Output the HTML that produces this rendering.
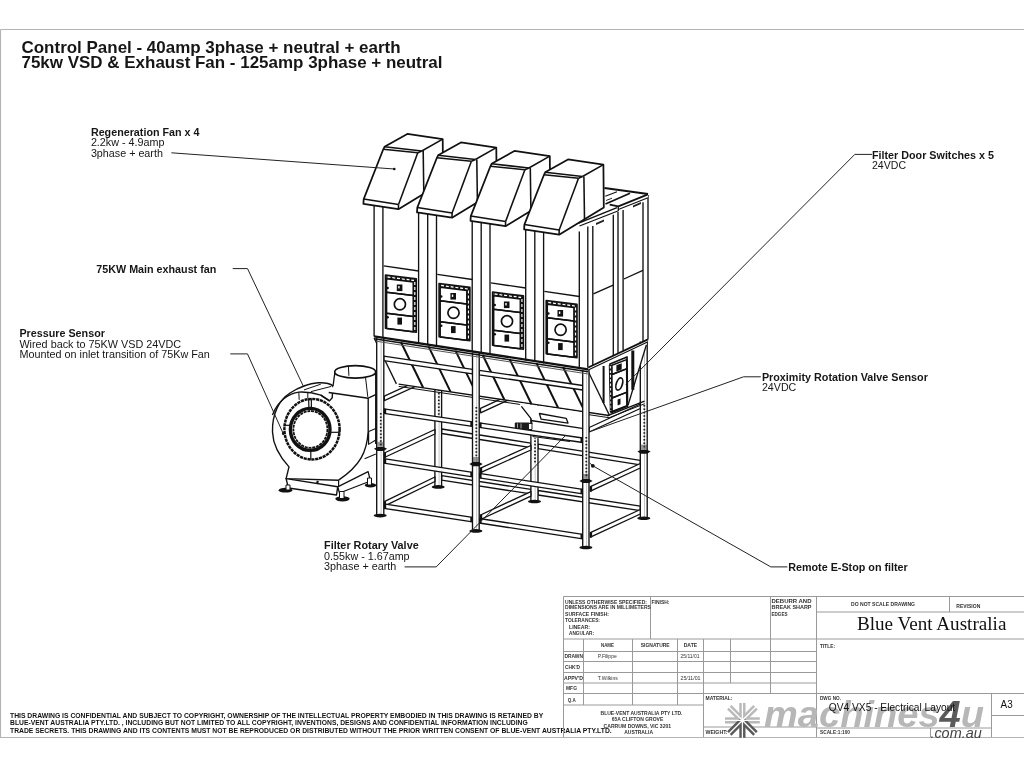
<!DOCTYPE html>
<html><head><meta charset="utf-8">
<style>
html,body{margin:0;padding:0;background:#fff;width:1024px;height:768px;overflow:hidden}
svg{display:block;filter:grayscale(1)}
text{font-family:"Liberation Sans",sans-serif}
.b{font-weight:bold}
.lb{font-size:10.75px}
</style></head><body>
<svg width="1024" height="768" viewBox="0 0 1024 768" fill="#161616">
<!-- frame -->
<g stroke="#b4b4b4" stroke-width="1.2" fill="none">
<path d="M0.5 29.5H1024M0.5 29.5V737.5H1024"/>
</g>
<!-- title -->
<text class="b" x="21.5" y="52.8" font-size="17" textLength="379" lengthAdjust="spacingAndGlyphs">Control Panel - 40amp 3phase + neutral + earth</text>
<text class="b" x="21.5" y="67.7" font-size="17" textLength="421" lengthAdjust="spacingAndGlyphs">75kw VSD &amp; Exhaust Fan - 125amp 3phase + neutral</text>
<!-- labels -->
<g class="lb">
<text class="b" x="90.9" y="135.6" textLength="108.6" lengthAdjust="spacingAndGlyphs">Regeneration Fan x 4</text>
<text x="90.9" y="146.3" textLength="73.5" lengthAdjust="spacingAndGlyphs">2.2kw - 4.9amp</text>
<text x="90.9" y="156.8" textLength="72" lengthAdjust="spacingAndGlyphs">3phase + earth</text>
<text class="b" x="96.3" y="273" textLength="120" lengthAdjust="spacingAndGlyphs">75KW Main exhaust fan</text>
<text class="b" x="19.4" y="337" textLength="85.5" lengthAdjust="spacingAndGlyphs">Pressure Sensor</text>
<text x="19.4" y="347.6" textLength="161.7" lengthAdjust="spacingAndGlyphs">Wired back to 75KW VSD 24VDC</text>
<text x="19.4" y="358.1" textLength="190.5" lengthAdjust="spacingAndGlyphs">Mounted on inlet transition of 75Kw Fan</text>
<text class="b" x="872" y="159.1" textLength="121.9" lengthAdjust="spacingAndGlyphs">Filter Door Switches x 5</text>
<text x="872" y="169.4" textLength="34" lengthAdjust="spacingAndGlyphs">24VDC</text>
<text class="b" x="761.9" y="381.1" textLength="166" lengthAdjust="spacingAndGlyphs">Proximity Rotation Valve Sensor</text>
<text x="761.9" y="391.2" textLength="34.4" lengthAdjust="spacingAndGlyphs">24VDC</text>
<text class="b" x="324.1" y="549.1" textLength="94.6" lengthAdjust="spacingAndGlyphs">Filter Rotary Valve</text>
<text x="324.1" y="559.5" textLength="85.5" lengthAdjust="spacingAndGlyphs">0.55kw - 1.67amp</text>
<text x="324.1" y="570.3" textLength="72.2" lengthAdjust="spacingAndGlyphs">3phase + earth</text>
<text class="b" x="788.2" y="570.8" textLength="119.6" lengthAdjust="spacingAndGlyphs">Remote E-Stop on filter</text>
</g>
<!-- copyright -->
<g class="b" font-size="6.9" fill="#111">
<text x="10" y="717.8" textLength="533.3" lengthAdjust="spacingAndGlyphs">THIS DRAWING IS CONFIDENTIAL AND SUBJECT TO COPYRIGHT, OWNERSHIP OF THE INTELLECTUAL PROPERTY EMBODIED IN THIS DRAWING IS RETAINED BY</text>
<text x="10" y="725.3" textLength="517.7" lengthAdjust="spacingAndGlyphs">BLUE-VENT AUSTRALIA PTY.LTD. , INCLUDING BUT NOT LIMITED TO ALL COPYRIGHT, INVENTIONS, DESIGNS AND CONFIDENTIAL INFORMATION INCLUDING</text>
<text x="10" y="732.8" textLength="601.7" lengthAdjust="spacingAndGlyphs">TRADE SECRETS. THIS DRAWING AND ITS CONTENTS MUST NOT BE REPRODUCED OR DISTRIBUTED WITHOUT THE PRIOR WRITTEN CONSENT OF BLUE-VENT AUSTRALIA PTY.LTD.</text>
</g>
<!-- MACHINE -->
<g id="machine" stroke="#111" stroke-width="1.35" fill="none" stroke-linejoin="round">
<!--M-->
<polygon points="441.6,429.0 530.9,443.1 530.9,447.6 441.6,433.5" fill="#fff"/>
<polygon points="538.0,444.2 640.3,460.4 640.3,464.9 538.0,448.7" fill="#fff"/>
<polygon points="441.6,475.7 530.9,489.4 530.9,493.9 441.6,480.2" fill="#fff"/>
<polygon points="538.0,490.5 640.3,506.1 640.3,510.6 538.0,495.0" fill="#fff"/>
<rect x="434.9" y="378.0" width="6.7" height="108.9" fill="#fff" stroke="none"/>
<line x1="434.9" y1="378.0" x2="434.9" y2="486.9"/>
<line x1="441.6" y1="378.0" x2="441.6" y2="486.9"/>
<line x1="439.1" y1="378.0" x2="439.1" y2="486.9" stroke-width="0.5" stroke="#888"/>
<ellipse cx="438.2" cy="486.9" rx="6.5" ry="1.8" fill="#111" stroke="none"/>
<rect x="530.9" y="378.0" width="7.1" height="123.5" fill="#fff" stroke="none"/>
<line x1="530.9" y1="378.0" x2="530.9" y2="501.5"/>
<line x1="538.0" y1="378.0" x2="538.0" y2="501.5"/>
<line x1="535.2" y1="378.0" x2="535.2" y2="501.5" stroke-width="0.5" stroke="#888"/>
<ellipse cx="534.5" cy="501.5" rx="6.5" ry="1.8" fill="#111" stroke="none"/>
<rect x="640.3" y="341.5" width="6.9" height="176.8" fill="#fff" stroke="none"/>
<line x1="640.3" y1="341.5" x2="640.3" y2="518.3"/>
<line x1="647.2" y1="341.5" x2="647.2" y2="518.3"/>
<line x1="644.5" y1="341.5" x2="644.5" y2="518.3" stroke-width="0.5" stroke="#888"/>
<ellipse cx="643.8" cy="518.3" rx="6.5" ry="1.8" fill="#111" stroke="none"/>
<rect x="437.9" y="386.0" width="1.8" height="1.6" fill="#222" stroke="none"/>
<rect x="437.9" y="389.4" width="1.8" height="1.6" fill="#222" stroke="none"/>
<rect x="437.9" y="392.8" width="1.8" height="1.6" fill="#222" stroke="none"/>
<rect x="437.9" y="396.2" width="1.8" height="1.6" fill="#222" stroke="none"/>
<rect x="437.9" y="399.6" width="1.8" height="1.6" fill="#222" stroke="none"/>
<rect x="437.9" y="403.0" width="1.8" height="1.6" fill="#222" stroke="none"/>
<rect x="437.9" y="406.4" width="1.8" height="1.6" fill="#222" stroke="none"/>
<rect x="437.9" y="409.8" width="1.8" height="1.6" fill="#222" stroke="none"/>
<rect x="437.9" y="413.2" width="1.8" height="1.6" fill="#222" stroke="none"/>
<rect x="534.1" y="437.0" width="1.8" height="1.6" fill="#222" stroke="none"/>
<rect x="534.1" y="440.4" width="1.8" height="1.6" fill="#222" stroke="none"/>
<rect x="534.1" y="443.8" width="1.8" height="1.6" fill="#222" stroke="none"/>
<rect x="534.1" y="447.2" width="1.8" height="1.6" fill="#222" stroke="none"/>
<rect x="534.1" y="450.6" width="1.8" height="1.6" fill="#222" stroke="none"/>
<rect x="534.1" y="454.0" width="1.8" height="1.6" fill="#222" stroke="none"/>
<rect x="534.1" y="457.4" width="1.8" height="1.6" fill="#222" stroke="none"/>
<rect x="534.1" y="460.8" width="1.8" height="1.6" fill="#222" stroke="none"/>
<rect x="643.4" y="405.0" width="1.8" height="1.6" fill="#222" stroke="none"/>
<rect x="643.4" y="408.4" width="1.8" height="1.6" fill="#222" stroke="none"/>
<rect x="643.4" y="411.8" width="1.8" height="1.6" fill="#222" stroke="none"/>
<rect x="643.4" y="415.2" width="1.8" height="1.6" fill="#222" stroke="none"/>
<rect x="643.4" y="418.6" width="1.8" height="1.6" fill="#222" stroke="none"/>
<rect x="643.4" y="422.0" width="1.8" height="1.6" fill="#222" stroke="none"/>
<rect x="643.4" y="425.4" width="1.8" height="1.6" fill="#222" stroke="none"/>
<rect x="643.4" y="428.8" width="1.8" height="1.6" fill="#222" stroke="none"/>
<rect x="643.4" y="432.2" width="1.8" height="1.6" fill="#222" stroke="none"/>
<rect x="643.4" y="435.6" width="1.8" height="1.6" fill="#222" stroke="none"/>
<rect x="643.4" y="439.0" width="1.8" height="1.6" fill="#222" stroke="none"/>
<rect x="643.4" y="442.4" width="1.8" height="1.6" fill="#222" stroke="none"/>
<rect x="643.4" y="445.8" width="1.8" height="1.6" fill="#222" stroke="none"/>
<polygon points="637.4,451.6 641.0,449.7 647.0,449.7 650.6,451.6 647.0,453.8 641.0,453.8" fill="#111" stroke="none"/><rect x="640.8" y="444.6" width="6.4" height="5" fill="#444" stroke="none" opacity="0.55"/>
<polygon points="384.3,396.1 434.9,373.0 434.9,377.5 384.3,400.6" fill="#fff"/>
<polygon points="480.5,408.3 530.9,385.0 530.9,389.5 480.5,412.8" fill="#fff"/>
<polygon points="589.2,427.5 640.3,404.0 640.3,408.5 589.2,432.0" fill="#fff"/>
<polygon points="374.1,338.0 588.0,371.0 609.0,415.5 398.7,384.2" fill="#fff" stroke="none"/>
<polygon points="588.0,371.0 648.0,339.5 646.3,345.0 628.1,405.0 609.0,415.5" fill="#fff" stroke="none"/>
<line x1="374.1" y1="338.0" x2="396.4" y2="383.9" stroke-width="1.3"/>
<line x1="401.0" y1="342.2" x2="423.2" y2="387.8" stroke-width="2"/>
<line x1="428.5" y1="346.4" x2="450.6" y2="391.9" stroke-width="2"/>
<line x1="455.5" y1="350.6" x2="477.5" y2="395.9" stroke-width="2"/>
<line x1="482.6" y1="354.8" x2="504.5" y2="400.0" stroke-width="2"/>
<line x1="509.5" y1="358.9" x2="531.4" y2="404.0" stroke-width="2"/>
<line x1="536.4" y1="363.1" x2="558.2" y2="408.0" stroke-width="2"/>
<line x1="563.2" y1="367.2" x2="584.9" y2="411.9" stroke-width="2"/>
<line x1="588.0" y1="371.0" x2="609.6" y2="415.6" stroke-width="1.3"/>
<line x1="398.7" y1="384.2" x2="609.0" y2="415.5" stroke-width="1.3"/>
<line x1="398.7" y1="386.4" x2="609.0" y2="417.7" stroke-width="1"/>
<line x1="646.3" y1="345.0" x2="628.1" y2="405.0" stroke-width="1.3"/>
<line x1="607.0" y1="415.8" x2="644.5" y2="401.2" stroke-width="1.4"/>
<line x1="608.0" y1="418.2" x2="644.5" y2="403.8" stroke-width="1"/>
<polygon points="610.0,364.0 627.0,357.0 627.5,406.2 611.1,412.6" fill="#fff" stroke-width="1.7"/>
<line x1="610.2" y1="365.0" x2="611.2" y2="412.0" stroke-width="2.8"/>
<line x1="610.3" y1="366.0" x2="611.1" y2="411.0" stroke="#fff" stroke-width="1.1" stroke-dasharray="2.6 1.8"/>
<polygon points="611.9,365.2 626.6,359.6 626.9,368.6 612.1,374.5" stroke-width="1.5"/>
<polygon points="611.9,374.5 626.6,368.9 626.9,392.1 612.1,398.0" stroke-width="1.5"/>
<polygon points="611.9,398.0 626.6,392.4 626.9,405.6 612.1,411.5" stroke-width="1.5"/>
<polygon points="616.4,365.2 621.7,363.2 621.7,369.4 616.4,371.4" fill="#111" stroke="none"/>
<ellipse cx="619.3" cy="384" rx="3" ry="6.3" stroke-width="1.7" transform="rotate(18 619.3 384)"/>
<polygon points="617.6,399.5 620.5,398.4 620.5,404.3 617.6,405.4" fill="#111" stroke="none"/>
<line x1="603.6" y1="366.0" x2="603.6" y2="403.0" stroke-width="2"/>
<line x1="632.8" y1="350.5" x2="632.8" y2="389.8" stroke-width="3"/>
<polygon points="519.0,403.0 521.4,406.4 531.0,418.7 532.0,437.5 583.0,443.0 583.0,412.5" fill="#fff" stroke="none"/>
<line x1="532.5" y1="436.5" x2="570.0" y2="441.5" stroke-width="1.2"/>
<polyline points="521.4,406.4 531.0,418.7 531.9,424.0"/>
<line x1="531.0" y1="420.5" x2="582.0" y2="428.4"/>
<polygon points="539.4,413.5 566.2,418.3 568.0,423.1 541.1,419.2" stroke-width="1.3"/>
<rect x="514.8" y="422.6" width="15" height="7.4" rx="1" fill="#1a1a1a" stroke="none"/>
<line x1="517.5" y1="423.5" x2="517.5" y2="429.0" stroke="#fff" stroke-width="0.6"/>
<line x1="521.0" y1="423.5" x2="521.0" y2="429.0" stroke="#fff" stroke-width="0.6"/>
<rect x="528.5" y="423.5" width="3.5" height="6" fill="#fff" stroke-width="0.9"/>
<polygon points="384.3,453.0 434.9,429.5 434.9,434.0 384.3,457.5" fill="#fff"/>
<polygon points="384.3,501.6 434.9,477.0 434.9,481.5 384.3,506.1" fill="#fff"/>
<polygon points="480.5,468.1 530.9,445.5 530.9,450.0 480.5,472.6" fill="#fff"/>
<polygon points="480.5,515.0 530.9,491.6 530.9,496.1 480.5,519.5" fill="#fff"/>
<polygon points="590.4,486.7 640.3,463.5 640.3,468.0 590.4,491.2" fill="#fff"/>
<polygon points="590.4,532.7 640.3,509.5 640.3,514.0 590.4,537.2" fill="#fff"/>
<polygon points="383.8,356.2 472.5,369.3 472.5,373.8 383.8,360.7" fill="#fff"/>
<polygon points="479.2,370.3 582.7,385.5 582.7,390.0 479.2,374.8" fill="#fff"/>
<polygon points="383.8,408.9 472.5,421.9 472.5,426.4 383.8,413.4" fill="#fff"/>
<polygon points="479.2,422.9 582.7,438.0 582.7,442.5 479.2,427.4" fill="#fff"/>
<polygon points="383.8,458.7 472.5,472.3 472.5,476.8 383.8,463.2" fill="#fff"/>
<polygon points="479.2,473.4 582.7,489.3 582.7,493.8 479.2,477.9" fill="#fff"/>
<polygon points="383.8,503.8 472.5,517.4 472.5,521.9 383.8,508.3" fill="#fff"/>
<polygon points="479.2,518.5 582.7,534.4 582.7,538.9 479.2,523.0" fill="#fff"/>
<rect x="376.7" y="338.0" width="7.1" height="177.6" fill="#fff" stroke="none"/>
<line x1="376.7" y1="338.0" x2="376.7" y2="515.6"/>
<line x1="383.8" y1="338.0" x2="383.8" y2="515.6"/>
<line x1="381.1" y1="338.0" x2="381.1" y2="515.6" stroke-width="0.5" stroke="#888"/>
<ellipse cx="380.2" cy="515.6" rx="6.5" ry="1.8" fill="#111" stroke="none"/>
<rect x="472.5" y="352.5" width="6.7" height="178.4" fill="#fff" stroke="none"/>
<line x1="472.5" y1="352.5" x2="472.5" y2="530.9"/>
<line x1="479.2" y1="352.5" x2="479.2" y2="530.9"/>
<line x1="476.7" y1="352.5" x2="476.7" y2="530.9" stroke-width="0.5" stroke="#888"/>
<ellipse cx="475.9" cy="530.9" rx="6.5" ry="1.8" fill="#111" stroke="none"/>
<rect x="582.7" y="370.0" width="6.3" height="177.5" fill="#fff" stroke="none"/>
<line x1="582.7" y1="370.0" x2="582.7" y2="547.5"/>
<line x1="589.0" y1="370.0" x2="589.0" y2="547.5"/>
<line x1="586.6" y1="370.0" x2="586.6" y2="547.5" stroke-width="0.5" stroke="#888"/>
<ellipse cx="585.9" cy="547.5" rx="6.5" ry="1.8" fill="#111" stroke="none"/>
<polygon points="373.9,448.8 377.5,446.9 383.5,446.9 387.1,448.8 383.5,451.0 377.5,451.0" fill="#111" stroke="none"/><rect x="377.3" y="441.8" width="6.4" height="5" fill="#444" stroke="none" opacity="0.55"/>
<polygon points="469.4,464.0 473.0,462.1 479.0,462.1 482.6,464.0 479.0,466.2 473.0,466.2" fill="#111" stroke="none"/><rect x="472.8" y="457.0" width="6.4" height="5" fill="#444" stroke="none" opacity="0.55"/>
<polygon points="579.4,480.9 583.0,479.0 589.0,479.0 592.6,480.9 589.0,483.1 583.0,483.1" fill="#111" stroke="none"/><rect x="582.8" y="473.9" width="6.4" height="5" fill="#444" stroke="none" opacity="0.55"/>
<rect x="384.0" y="408.7" width="2.2" height="5.2" fill="#111" stroke="none"/>
<rect x="470.3" y="421.3" width="2.2" height="5.2" fill="#111" stroke="none"/>
<rect x="479.4" y="422.6" width="2.2" height="5.2" fill="#111" stroke="none"/>
<rect x="580.5" y="437.4" width="2.2" height="5.2" fill="#111" stroke="none"/>
<rect x="384.0" y="458.5" width="2.2" height="5.2" fill="#111" stroke="none"/>
<rect x="470.3" y="471.8" width="2.2" height="5.2" fill="#111" stroke="none"/>
<rect x="479.4" y="473.2" width="2.2" height="5.2" fill="#111" stroke="none"/>
<rect x="580.5" y="488.7" width="2.2" height="5.2" fill="#111" stroke="none"/>
<rect x="384.0" y="503.6" width="2.2" height="5.2" fill="#111" stroke="none"/>
<rect x="470.3" y="516.9" width="2.2" height="5.2" fill="#111" stroke="none"/>
<rect x="479.4" y="518.3" width="2.2" height="5.2" fill="#111" stroke="none"/>
<rect x="580.5" y="533.8" width="2.2" height="5.2" fill="#111" stroke="none"/>
<rect x="383.8" y="452.6" width="2.2" height="5.2" fill="#111" stroke="none"/>
<rect x="383.8" y="501.2" width="2.2" height="5.2" fill="#111" stroke="none"/>
<rect x="480.0" y="467.7" width="2.2" height="5.2" fill="#111" stroke="none"/>
<rect x="480.0" y="514.6" width="2.2" height="5.2" fill="#111" stroke="none"/>
<rect x="589.9" y="486.3" width="2.2" height="5.2" fill="#111" stroke="none"/>
<rect x="589.9" y="532.3" width="2.2" height="5.2" fill="#111" stroke="none"/>
<rect x="379.9" y="413.0" width="1.8" height="1.6" fill="#222" stroke="none"/>
<rect x="379.9" y="416.4" width="1.8" height="1.6" fill="#222" stroke="none"/>
<rect x="379.9" y="419.8" width="1.8" height="1.6" fill="#222" stroke="none"/>
<rect x="379.9" y="423.2" width="1.8" height="1.6" fill="#222" stroke="none"/>
<rect x="379.9" y="426.6" width="1.8" height="1.6" fill="#222" stroke="none"/>
<rect x="379.9" y="430.0" width="1.8" height="1.6" fill="#222" stroke="none"/>
<rect x="379.9" y="433.4" width="1.8" height="1.6" fill="#222" stroke="none"/>
<rect x="379.9" y="436.8" width="1.8" height="1.6" fill="#222" stroke="none"/>
<rect x="379.9" y="440.2" width="1.8" height="1.6" fill="#222" stroke="none"/>
<rect x="379.9" y="443.6" width="1.8" height="1.6" fill="#222" stroke="none"/>
<rect x="585.4" y="437.0" width="1.8" height="1.6" fill="#222" stroke="none"/>
<rect x="585.4" y="440.4" width="1.8" height="1.6" fill="#222" stroke="none"/>
<rect x="585.4" y="443.8" width="1.8" height="1.6" fill="#222" stroke="none"/>
<rect x="585.4" y="447.2" width="1.8" height="1.6" fill="#222" stroke="none"/>
<rect x="585.4" y="450.6" width="1.8" height="1.6" fill="#222" stroke="none"/>
<rect x="585.4" y="454.0" width="1.8" height="1.6" fill="#222" stroke="none"/>
<rect x="585.4" y="457.4" width="1.8" height="1.6" fill="#222" stroke="none"/>
<rect x="585.4" y="460.8" width="1.8" height="1.6" fill="#222" stroke="none"/>
<rect x="585.4" y="464.2" width="1.8" height="1.6" fill="#222" stroke="none"/>
<rect x="585.4" y="467.6" width="1.8" height="1.6" fill="#222" stroke="none"/>
<rect x="585.4" y="471.0" width="1.8" height="1.6" fill="#222" stroke="none"/>
<rect x="585.4" y="474.4" width="1.8" height="1.6" fill="#222" stroke="none"/>
<rect x="475.4" y="407.0" width="1.8" height="1.6" fill="#222" stroke="none"/>
<rect x="475.4" y="410.4" width="1.8" height="1.6" fill="#222" stroke="none"/>
<rect x="475.4" y="413.8" width="1.8" height="1.6" fill="#222" stroke="none"/>
<rect x="475.4" y="417.2" width="1.8" height="1.6" fill="#222" stroke="none"/>
<rect x="475.4" y="420.6" width="1.8" height="1.6" fill="#222" stroke="none"/>
<rect x="475.4" y="424.0" width="1.8" height="1.6" fill="#222" stroke="none"/>
<rect x="475.4" y="427.4" width="1.8" height="1.6" fill="#222" stroke="none"/>
<rect x="475.4" y="430.8" width="1.8" height="1.6" fill="#222" stroke="none"/>
<rect x="475.4" y="434.2" width="1.8" height="1.6" fill="#222" stroke="none"/>
<rect x="475.4" y="437.6" width="1.8" height="1.6" fill="#222" stroke="none"/>
<rect x="475.4" y="441.0" width="1.8" height="1.6" fill="#222" stroke="none"/>
<rect x="475.4" y="444.4" width="1.8" height="1.6" fill="#222" stroke="none"/>
<rect x="475.4" y="447.8" width="1.8" height="1.6" fill="#222" stroke="none"/>
<rect x="475.4" y="451.2" width="1.8" height="1.6" fill="#222" stroke="none"/>
<rect x="475.4" y="454.6" width="1.8" height="1.6" fill="#222" stroke="none"/>
<line x1="374.1" y1="336.3" x2="588.2" y2="369.3" stroke-width="2.3"/>
<line x1="374.1" y1="338.8" x2="588.2" y2="371.8" stroke-width="1.4"/>
<line x1="376.0" y1="341.2" x2="588.2" y2="374.0" stroke-width="1" stroke="#555"/>
<line x1="588.2" y1="367.5" x2="648.0" y2="339.4" stroke-width="1.8"/>
<line x1="588.2" y1="370.0" x2="648.0" y2="341.8" stroke-width="1.2"/>
<path d="M286.1,478.6 L289,466.9 C280,457 273,446 272.5,432 C272,414 279,400 290,393 C298,388 308,383.5 318,382.8 C324,382.5 330,383.5 333,385.9 L368.2,398.2 L368.2,431.5 C367,452 360,466 338.6,480.2 Z" fill="#fff" stroke-width="1.4"/>
<polyline points="333.0,385.9 332.2,397.8 329.5,400.9 320.8,395.2" stroke-width="1.4"/>
<line x1="304.0" y1="389.9" x2="320.8" y2="384.2" stroke-width="1"/>
<line x1="311.0" y1="391.6" x2="331.3" y2="386.4" stroke-width="1"/>
<path d="M272.5,415 C278,400 290,393 298.8,392.1 C305,391.8 312,392.3 320.8,395.2 L329.5,400.9" stroke-width="1.4"/>
<line x1="298.8" y1="392.1" x2="299.2" y2="399.8" stroke-width="1"/>
<line x1="307.8" y1="392.3" x2="307.8" y2="398.2" stroke-width="1"/>
<ellipse cx="312" cy="429.2" rx="27.6" ry="30.3" stroke-width="2.5" stroke-dasharray="3.2 0.7"/>
<ellipse cx="310.2" cy="429.4" rx="19.8" ry="21" stroke-width="3.4"/>
<ellipse cx="310.4" cy="429.4" rx="17" ry="18.4" stroke-width="1.8" stroke-dasharray="3 0.8"/>
<line x1="308.6" y1="398.6" x2="308.9" y2="407.8" stroke-width="1.2"/>
<line x1="311.3" y1="398.6" x2="311.4" y2="407.8" stroke-width="1.2"/>
<line x1="330.6" y1="432.3" x2="340.0" y2="432.3" stroke-width="1.2"/>
<line x1="310.8" y1="451.0" x2="310.8" y2="459.8" stroke-width="1.2"/>
<line x1="283.8" y1="425.3" x2="290.2" y2="425.3" stroke-width="1.2"/>
<line x1="283.2" y1="433.5" x2="283.2" y2="433.5" stroke-width="2.5" stroke-linecap="round"/>
<polygon points="328.7,392.5 333.0,386.4 334.8,372.5 375.7,372.3 375.7,394.7 368.2,398.2" fill="#fff" stroke="none"/>
<line x1="328.7" y1="392.5" x2="368.2" y2="398.2" stroke-width="1.6"/>
<line x1="368.2" y1="398.2" x2="375.7" y2="394.7" stroke-width="1.3"/>
<line x1="334.8" y1="372.8" x2="333.0" y2="386.4" stroke-width="1.3"/>
<line x1="375.7" y1="372.3" x2="375.7" y2="444.0" stroke-width="1.3"/>
<ellipse cx="355.2" cy="371.9" rx="20.5" ry="6.2" fill="#fff" stroke-width="1.7"/>
<line x1="348.4" y1="366.0" x2="348.9" y2="375.8" stroke-width="1"/>
<line x1="365.6" y1="378.0" x2="367.8" y2="396.9" stroke-width="1"/>
<line x1="368.7" y1="431.5" x2="375.8" y2="428.6" stroke-width="1.1"/>
<polygon points="286.1,478.6 337.7,486.8 336.5,495.0 288.4,488.0" fill="#fff" stroke-width="1.4"/>
<polygon points="337.7,486.8 368.1,471.6 370.5,481.0 339.5,493.0" fill="#fff" stroke-width="1.3"/>
<line x1="338.6" y1="480.2" x2="338.6" y2="487.0" stroke-width="1.2"/>
<line x1="368.6" y1="431.5" x2="368.6" y2="444.0" stroke-width="1.2"/>
<line x1="368.1" y1="444.6" x2="375.8" y2="440.0" stroke-width="1.1"/>
<line x1="364.6" y1="458.7" x2="375.8" y2="454.0" stroke-width="1.1"/>
<ellipse cx="285.5" cy="490.2" rx="6.8" ry="2.4" fill="#111" stroke="none"/>
<ellipse cx="342.5" cy="498.8" rx="7.2" ry="2.6" fill="#111" stroke="none"/>
<ellipse cx="370.5" cy="485.3" rx="5.8" ry="2.2" fill="#111" stroke="none"/>
<rect x="286" y="485" width="4" height="5" fill="#fff" stroke-width="1"/>
<rect x="339.5" y="491.5" width="4.5" height="7" fill="#fff" stroke-width="1"/>
<rect x="367.5" y="478" width="4" height="7" fill="#fff" stroke-width="1"/>
<line x1="317.0" y1="483.0" x2="318.0" y2="481.0" stroke-width="2.2"/>
<line x1="374.1" y1="200.0" x2="374.1" y2="336.5"/>
<line x1="382.9" y1="200.0" x2="382.9" y2="337.9"/>
<line x1="418.6" y1="206.0" x2="418.6" y2="343.4"/>
<line x1="383.7" y1="265.9" x2="418.7" y2="271.0"/>
<polygon points="385.5,275.0 416.3,278.9 416.3,332.2 385.5,328.3" stroke-width="1.6"/>
<line x1="386.2" y1="276.9" x2="415.8" y2="280.8" stroke-width="3"/>
<line x1="414.8" y1="280.0" x2="414.8" y2="331.5" stroke-width="2.8"/>
<line x1="387.5" y1="277.0" x2="414.0" y2="280.5" stroke="#fff" stroke-width="1.3" stroke-dasharray="3 1.8"/>
<line x1="414.8" y1="282.0" x2="414.8" y2="330.0" stroke="#fff" stroke-width="1.2" stroke-dasharray="3 2"/>
<polygon points="386.6,278.8 413.2,282.1 413.2,295.5 386.6,292.2" stroke-width="1.5"/>
<polygon points="386.6,292.2 413.2,295.5 413.2,316.6 386.6,313.3" stroke-width="1.5"/>
<polygon points="386.6,313.3 413.2,316.6 413.2,331.7 386.6,328.4" stroke-width="1.5"/>
<rect x="396.8" y="284.5" width="5.6" height="6.6" fill="#111" stroke="none"/>
<rect x="398.2" y="286.0" width="1.4" height="2.4" fill="#fff" stroke="none"/>
<circle cx="399.9" cy="304.3" r="5.6" stroke-width="1.7"/>
<rect x="397.4" y="317.6" width="4.6" height="7" fill="#111" stroke="none"/>
<circle cx="387.6" cy="288.0" r="1.3" fill="#111" stroke="none"/>
<circle cx="387.6" cy="317.3" r="1.3" fill="#111" stroke="none"/>
<line x1="427.7" y1="208.5" x2="427.7" y2="345.0"/>
<line x1="436.5" y1="208.5" x2="436.5" y2="346.4"/>
<line x1="472.2" y1="214.5" x2="472.2" y2="351.9"/>
<line x1="437.3" y1="274.4" x2="472.3" y2="279.5"/>
<polygon points="439.1,283.5 469.9,287.4 469.9,340.7 439.1,336.8" stroke-width="1.6"/>
<line x1="439.8" y1="285.4" x2="469.4" y2="289.3" stroke-width="3"/>
<line x1="468.4" y1="288.5" x2="468.4" y2="340.0" stroke-width="2.8"/>
<line x1="441.1" y1="285.5" x2="467.6" y2="289.0" stroke="#fff" stroke-width="1.3" stroke-dasharray="3 1.8"/>
<line x1="468.4" y1="290.5" x2="468.4" y2="338.5" stroke="#fff" stroke-width="1.2" stroke-dasharray="3 2"/>
<polygon points="440.2,287.3 466.8,290.6 466.8,304.0 440.2,300.7" stroke-width="1.5"/>
<polygon points="440.2,300.7 466.8,304.0 466.8,325.1 440.2,321.8" stroke-width="1.5"/>
<polygon points="440.2,321.8 466.8,325.1 466.8,340.2 440.2,336.9" stroke-width="1.5"/>
<rect x="450.4" y="293.0" width="5.6" height="6.6" fill="#111" stroke="none"/>
<rect x="451.8" y="294.5" width="1.4" height="2.4" fill="#fff" stroke="none"/>
<circle cx="453.5" cy="312.8" r="5.6" stroke-width="1.7"/>
<rect x="451.0" y="326.1" width="4.6" height="7" fill="#111" stroke="none"/>
<circle cx="441.2" cy="296.5" r="1.3" fill="#111" stroke="none"/>
<circle cx="441.2" cy="325.8" r="1.3" fill="#111" stroke="none"/>
<line x1="481.2" y1="217.0" x2="481.2" y2="353.5"/>
<line x1="490.0" y1="217.0" x2="490.0" y2="354.9"/>
<line x1="525.7" y1="223.0" x2="525.7" y2="360.4"/>
<line x1="490.8" y1="282.9" x2="525.8" y2="288.0"/>
<polygon points="492.6,292.0 523.4,295.9 523.4,349.2 492.6,345.3" stroke-width="1.6"/>
<line x1="493.3" y1="293.9" x2="522.9" y2="297.8" stroke-width="3"/>
<line x1="521.9" y1="297.0" x2="521.9" y2="348.5" stroke-width="2.8"/>
<line x1="494.6" y1="294.0" x2="521.1" y2="297.5" stroke="#fff" stroke-width="1.3" stroke-dasharray="3 1.8"/>
<line x1="521.9" y1="299.0" x2="521.9" y2="347.0" stroke="#fff" stroke-width="1.2" stroke-dasharray="3 2"/>
<polygon points="493.7,295.8 520.3,299.1 520.3,312.5 493.7,309.2" stroke-width="1.5"/>
<polygon points="493.7,309.2 520.3,312.5 520.3,333.6 493.7,330.3" stroke-width="1.5"/>
<polygon points="493.7,330.3 520.3,333.6 520.3,348.7 493.7,345.4" stroke-width="1.5"/>
<rect x="503.9" y="301.5" width="5.6" height="6.6" fill="#111" stroke="none"/>
<rect x="505.3" y="303.0" width="1.4" height="2.4" fill="#fff" stroke="none"/>
<circle cx="507.0" cy="321.3" r="5.6" stroke-width="1.7"/>
<rect x="504.5" y="334.6" width="4.6" height="7" fill="#111" stroke="none"/>
<circle cx="494.7" cy="305.0" r="1.3" fill="#111" stroke="none"/>
<circle cx="494.7" cy="334.3" r="1.3" fill="#111" stroke="none"/>
<line x1="534.8" y1="225.5" x2="534.8" y2="362.0"/>
<line x1="543.6" y1="225.5" x2="543.6" y2="363.4"/>
<line x1="579.3" y1="231.5" x2="579.3" y2="368.9"/>
<line x1="544.4" y1="291.4" x2="579.4" y2="296.5"/>
<polygon points="546.2,300.5 577.0,304.4 577.0,357.7 546.2,353.8" stroke-width="1.6"/>
<line x1="546.9" y1="302.4" x2="576.5" y2="306.3" stroke-width="3"/>
<line x1="575.5" y1="305.5" x2="575.5" y2="357.0" stroke-width="2.8"/>
<line x1="548.2" y1="302.5" x2="574.7" y2="306.0" stroke="#fff" stroke-width="1.3" stroke-dasharray="3 1.8"/>
<line x1="575.5" y1="307.5" x2="575.5" y2="355.5" stroke="#fff" stroke-width="1.2" stroke-dasharray="3 2"/>
<polygon points="547.3,304.3 573.9,307.6 573.9,321.0 547.3,317.7" stroke-width="1.5"/>
<polygon points="547.3,317.7 573.9,321.0 573.9,342.1 547.3,338.8" stroke-width="1.5"/>
<polygon points="547.3,338.8 573.9,342.1 573.9,357.2 547.3,353.9" stroke-width="1.5"/>
<rect x="557.5" y="310.0" width="5.6" height="6.6" fill="#111" stroke="none"/>
<rect x="558.9" y="311.5" width="1.4" height="2.4" fill="#fff" stroke="none"/>
<circle cx="560.6" cy="329.8" r="5.6" stroke-width="1.7"/>
<rect x="558.1" y="343.1" width="4.6" height="7" fill="#111" stroke="none"/>
<circle cx="548.3" cy="313.5" r="1.3" fill="#111" stroke="none"/>
<circle cx="548.3" cy="342.8" r="1.3" fill="#111" stroke="none"/>
<line x1="587.8" y1="226.4" x2="587.8" y2="367.7"/>
<line x1="592.8" y1="226.0" x2="592.8" y2="365.3"/>
<line x1="613.3" y1="214.7" x2="613.3" y2="355.7"/>
<line x1="618.0" y1="212.0" x2="618.0" y2="353.5"/>
<line x1="623.1" y1="210.0" x2="623.1" y2="351.1"/>
<line x1="643.0" y1="202.2" x2="643.0" y2="341.7"/>
<line x1="648.0" y1="195.0" x2="648.0" y2="339.4"/>
<line x1="593.4" y1="293.9" x2="613.2" y2="285.2"/>
<line x1="623.9" y1="279.0" x2="642.9" y2="270.3"/>
<polygon points="604.4,188.3 648.0,194.1 648.0,197.7 617.5,211.0 580.0,225.8 577.8,224.5 604.4,210.0" fill="#fff" stroke="none"/>
<line x1="604.4" y1="188.0" x2="648.0" y2="194.1" stroke-width="2"/>
<line x1="578.0" y1="223.4" x2="617.0" y2="207.6" stroke-width="1.5"/>
<line x1="579.5" y1="226.0" x2="617.8" y2="211.0" stroke-width="1.3"/>
<polyline points="609.7,204.6 618.3,206.4 648.0,194.4" stroke-width="1.7"/>
<line x1="618.3" y1="206.4" x2="618.3" y2="211.2" stroke-width="1.3"/>
<line x1="618.3" y1="209.5" x2="648.0" y2="197.7" stroke-width="1.2"/>
<line x1="605.5" y1="204.0" x2="630.0" y2="193.2" stroke-width="1.8"/>
<line x1="605.3" y1="196.2" x2="617.0" y2="191.8" stroke-width="1.1"/>
<line x1="606.0" y1="200.5" x2="612.0" y2="198.2" stroke-width="0.9"/>
<polygon points="596.0,223.0 604.0,219.6 604.0,221.6 596.0,225.0" fill="#222" stroke="none"/>
<polygon points="633.0,205.5 641.0,202.1 641.0,204.1 633.0,207.5" fill="#222" stroke="none"/>
<polygon points="407.3,133.9 442.7,139.1 443.1,181.9 398.4,209.2 363.4,203.8 363.7,199.1 383.3,149.3 384.5,146.8" fill="#fff" stroke-width="1.75"/>
<line x1="384.5" y1="146.8" x2="421.8" y2="151.0" stroke-width="1.55"/>
<line x1="421.8" y1="151.0" x2="442.7" y2="139.1" stroke-width="1.55"/>
<line x1="383.3" y1="149.3" x2="417.8" y2="152.7" stroke-width="1.55"/>
<line x1="417.8" y1="152.7" x2="421.8" y2="151.0" stroke-width="1.55"/>
<line x1="417.8" y1="152.7" x2="398.5" y2="204.5" stroke-width="1.55"/>
<line x1="363.7" y1="199.1" x2="398.5" y2="204.5" stroke-width="1.55"/>
<line x1="398.5" y1="204.5" x2="398.4" y2="209.2" stroke-width="1.55"/>
<line x1="423.2" y1="151.1" x2="423.8" y2="193.6" stroke-width="1.55"/>
<polygon points="460.9,142.4 496.3,147.6 496.7,190.4 452.0,217.7 417.0,212.3 417.3,207.6 436.9,157.8 438.1,155.3" fill="#fff" stroke-width="1.75"/>
<line x1="438.1" y1="155.3" x2="475.4" y2="159.5" stroke-width="1.55"/>
<line x1="475.4" y1="159.5" x2="496.3" y2="147.6" stroke-width="1.55"/>
<line x1="436.9" y1="157.8" x2="471.4" y2="161.2" stroke-width="1.55"/>
<line x1="471.4" y1="161.2" x2="475.4" y2="159.5" stroke-width="1.55"/>
<line x1="471.4" y1="161.2" x2="452.1" y2="213.0" stroke-width="1.55"/>
<line x1="417.3" y1="207.6" x2="452.1" y2="213.0" stroke-width="1.55"/>
<line x1="452.1" y1="213.0" x2="452.0" y2="217.7" stroke-width="1.55"/>
<line x1="476.8" y1="159.6" x2="477.4" y2="202.1" stroke-width="1.55"/>
<polygon points="514.4,150.9 549.8,156.1 550.2,198.9 505.5,226.2 470.5,220.8 470.8,216.1 490.4,166.3 491.6,163.8" fill="#fff" stroke-width="1.75"/>
<line x1="491.6" y1="163.8" x2="528.9" y2="168.0" stroke-width="1.55"/>
<line x1="528.9" y1="168.0" x2="549.8" y2="156.1" stroke-width="1.55"/>
<line x1="490.4" y1="166.3" x2="524.9" y2="169.7" stroke-width="1.55"/>
<line x1="524.9" y1="169.7" x2="528.9" y2="168.0" stroke-width="1.55"/>
<line x1="524.9" y1="169.7" x2="505.6" y2="221.5" stroke-width="1.55"/>
<line x1="470.8" y1="216.1" x2="505.6" y2="221.5" stroke-width="1.55"/>
<line x1="505.6" y1="221.5" x2="505.5" y2="226.2" stroke-width="1.55"/>
<line x1="530.3" y1="168.1" x2="530.9" y2="210.6" stroke-width="1.55"/>
<polygon points="568.0,159.4 603.4,164.6 603.8,207.4 559.1,234.7 524.1,229.3 524.4,224.6 544.0,174.8 545.2,172.3" fill="#fff" stroke-width="1.75"/>
<line x1="545.2" y1="172.3" x2="582.5" y2="176.5" stroke-width="1.55"/>
<line x1="582.5" y1="176.5" x2="603.4" y2="164.6" stroke-width="1.55"/>
<line x1="544.0" y1="174.8" x2="578.5" y2="178.2" stroke-width="1.55"/>
<line x1="578.5" y1="178.2" x2="582.5" y2="176.5" stroke-width="1.55"/>
<line x1="578.5" y1="178.2" x2="559.2" y2="230.0" stroke-width="1.55"/>
<line x1="524.4" y1="224.6" x2="559.2" y2="230.0" stroke-width="1.55"/>
<line x1="559.2" y1="230.0" x2="559.1" y2="234.7" stroke-width="1.55"/>
<line x1="583.9" y1="176.6" x2="584.5" y2="219.1" stroke-width="1.55"/>
<!--/M-->
</g>
<!-- leaders -->
<g stroke="#222" stroke-width="1" fill="none">
<path d="M171.4 152.8L394.3 169"/>
<path d="M232.7 268.6H247.5L303.2 385.9"/>
<path d="M230.3 353.9H247.5L283.2 433.5"/>
<path d="M872 154.4H854.8L625.8 384.4"/>
<path d="M760.8 376.8H743.6L591.5 431.1"/>
<path d="M404.6 566.9H436.2L566 435"/>
<path d="M787.4 566.9H770.8L592.8 465.8L589.5 462.8"/>
</g>
<g fill="#111"><circle cx="394.3" cy="169" r="1.3"/><circle cx="283.2" cy="433.5" r="1.2"/><circle cx="592.8" cy="465.8" r="1.9"/></g>
<!-- TITLE BLOCK -->
<g id="tblock">
<g stroke="#9a9a9a" stroke-width="1" fill="none">
<path d="M563.5 596.5H1024M563.5 639H1024M563.5 651.5H816.5M563.5 661.5H816.5M563.5 672.5H816.5M563.5 683H816.5M563.5 693.5H1024M563.5 705H703.5M703.5 727H816.5M816.5 612H1024M991.5 715.5H1024M816.5 728H991.5"/>
<path d="M563.5 596.5V737M583.5 639V705M632.5 639V705M650.5 596.5V639M677.5 639V705M703.5 639V737M730.5 639V683M770.5 596.5V693.5M816.5 596.5V737M949.5 596.5V612M991.5 693.5V737M930.5 728V737"/>
</g>
<g font-size="5" font-weight="bold" fill="#333">
<text x="565" y="603.6" textLength="82" lengthAdjust="spacingAndGlyphs">UNLESS OTHERWISE SPECIFIED:</text>
<text x="651.5" y="603.6" textLength="18" lengthAdjust="spacingAndGlyphs">FINISH:</text>
<text x="565" y="609.4" textLength="86" lengthAdjust="spacingAndGlyphs">DIMENSIONS ARE IN MILLIMETERS</text>
<text x="565" y="616.1" textLength="44" lengthAdjust="spacingAndGlyphs">SURFACE FINISH:</text>
<text x="565" y="621.8" textLength="35" lengthAdjust="spacingAndGlyphs">TOLERANCES:</text>
<text x="569" y="628.8" textLength="21" lengthAdjust="spacingAndGlyphs">LINEAR:</text>
<text x="569" y="634.8" textLength="25" lengthAdjust="spacingAndGlyphs">ANGULAR:</text>
<text x="771.5" y="602.5" textLength="40" lengthAdjust="spacingAndGlyphs">DEBURR AND</text>
<text x="771.5" y="609.4" textLength="40" lengthAdjust="spacingAndGlyphs">BREAK SHARP</text>
<text x="771.5" y="616.2" textLength="16" lengthAdjust="spacingAndGlyphs">EDGES</text>
<text x="601" y="647.2" textLength="13" lengthAdjust="spacingAndGlyphs">NAME</text>
<text x="640.7" y="647.2" textLength="29" lengthAdjust="spacingAndGlyphs">SIGNATURE</text>
<text x="683.7" y="647.2" textLength="13.5" lengthAdjust="spacingAndGlyphs">DATE</text>
<text x="564.5" y="658" textLength="18.5" lengthAdjust="spacingAndGlyphs">DRAWN</text>
<text x="597.8" y="658" textLength="19" lengthAdjust="spacingAndGlyphs" font-weight="normal">P.Filippe</text>
<text x="680.5" y="658" textLength="19" lengthAdjust="spacingAndGlyphs" font-weight="normal">25/11/01</text>
<text x="565" y="668.7" textLength="15" lengthAdjust="spacingAndGlyphs">CHK'D</text>
<text x="564" y="679.5" textLength="19" lengthAdjust="spacingAndGlyphs">APPV'D</text>
<text x="597.8" y="679.5" textLength="20" lengthAdjust="spacingAndGlyphs" font-weight="normal">T.Wilkins</text>
<text x="680.5" y="679.5" textLength="20" lengthAdjust="spacingAndGlyphs" font-weight="normal">25/11/01</text>
<text x="566" y="690.2" textLength="11" lengthAdjust="spacingAndGlyphs">MFG</text>
<text x="567.7" y="701.8" textLength="8" lengthAdjust="spacingAndGlyphs">Q.A</text>
<text x="600.5" y="714.7" textLength="82" lengthAdjust="spacingAndGlyphs">BLUE-VENT AUSTRALIA PTY LTD.</text>
<text x="611.7" y="720.7" textLength="51.6" lengthAdjust="spacingAndGlyphs">65A CLIFTON GROVE</text>
<text x="603.6" y="727.6" textLength="67.6" lengthAdjust="spacingAndGlyphs">CARRUM DOWNS, VIC 3201</text>
<text x="624.2" y="734" textLength="28.8" lengthAdjust="spacingAndGlyphs">AUSTRALIA</text>
<text x="705.5" y="700.3" textLength="27" lengthAdjust="spacingAndGlyphs">MATERIAL:</text>
<text x="705.5" y="733.8" textLength="22" lengthAdjust="spacingAndGlyphs">WEIGHT:</text>
<text x="851" y="606.4" textLength="64" lengthAdjust="spacingAndGlyphs">DO NOT SCALE DRAWING</text>
<text x="956.3" y="607.5" textLength="24" lengthAdjust="spacingAndGlyphs">REVISION</text>
<text x="820" y="647.8" textLength="15" lengthAdjust="spacingAndGlyphs">TITLE:</text>
<text x="820" y="700.1" textLength="21" lengthAdjust="spacingAndGlyphs">DWG NO.</text>
<text x="820" y="733.8" textLength="30" lengthAdjust="spacingAndGlyphs">SCALE:1:100</text>
</g>
<!-- watermark -->
<g><line x1="742.4" y1="720.4" x2="742.4" y2="703.0" stroke="#b9b9b9" stroke-width="6.2"/><line x1="742.4" y1="720.4" x2="755.5" y2="707.3" stroke="#b9b9b9" stroke-width="6.2"/><line x1="742.4" y1="720.4" x2="759.8" y2="720.4" stroke="#b9b9b9" stroke-width="6.2"/><line x1="742.4" y1="720.4" x2="729.3" y2="707.3" stroke="#b9b9b9" stroke-width="6.2"/><line x1="742.4" y1="720.4" x2="725.0" y2="720.4" stroke="#b9b9b9" stroke-width="6.2"/><line x1="742.4" y1="720.4" x2="755.5" y2="733.5" stroke="#5a5a5a" stroke-width="6.2"/><line x1="742.4" y1="720.4" x2="742.4" y2="737.8" stroke="#5a5a5a" stroke-width="6.2"/><line x1="742.4" y1="720.4" x2="729.3" y2="733.5" stroke="#5a5a5a" stroke-width="6.2"/><line x1="722.4" y1="720.4" x2="762.4" y2="720.4" stroke="#fff" stroke-width="1.3"/><line x1="728.3" y1="734.5" x2="756.5" y2="706.3" stroke="#fff" stroke-width="1.3"/><line x1="742.4" y1="740.4" x2="742.4" y2="700.4" stroke="#fff" stroke-width="1.3"/><line x1="756.5" y1="734.5" x2="728.3" y2="706.3" stroke="#fff" stroke-width="1.3"/></g>
<text x="764" y="726.9" font-size="37.5" font-weight="bold" font-style="italic" fill="#b7b7b7" textLength="220" lengthAdjust="spacingAndGlyphs">machines<tspan fill="#5a5a5a">4</tspan>u</text>
<text x="930.4" y="737.9" font-size="15.5" font-style="italic" fill="#444" textLength="51.3" lengthAdjust="spacingAndGlyphs">.com.au</text>
<text x="857" y="629.7" font-size="19" style="font-family:'Liberation Serif',serif" fill="#111" textLength="149.4" lengthAdjust="spacingAndGlyphs">Blue Vent Australia</text>
<text x="828.8" y="710.8" font-size="11" fill="#111" textLength="126.4" lengthAdjust="spacingAndGlyphs">QV4 VX5 - Electrical Layout</text>
<text x="1000.6" y="708" font-size="10" fill="#111" textLength="12.1" lengthAdjust="spacingAndGlyphs">A3</text>
</g>
</svg>
</body></html>
